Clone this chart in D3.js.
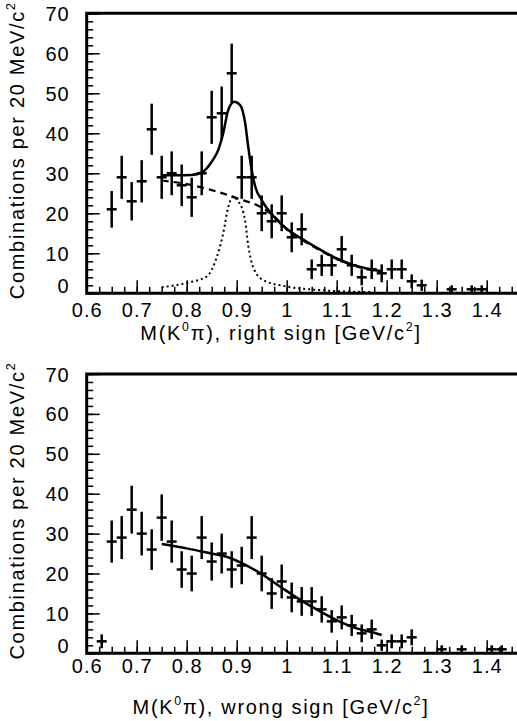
<!DOCTYPE html>
<html>
<head>
<meta charset="utf-8">
<script src="https://cdn.jsdelivr.net/npm/d3@7"></script>
<style>
  body { margin: 0; background: #fff; }
  svg { display: block; }
  text { font-family: "Liberation Sans", Arial, sans-serif; fill: #000; }
</style>
</head>
<body>
<script>
// bin centres (GeV/c^2) and counts per 20 MeV, right sign
const massRS = [0.65, 0.67, 0.69, 0.71, 0.73, 0.75, 0.77, 0.79, 0.81, 0.83, 0.85, 0.87, 0.89, 0.91, 0.93,
  0.95, 0.97, 0.99, 1.01, 1.03, 1.05, 1.07, 1.09, 1.11, 1.13, 1.15, 1.17, 1.19, 1.21, 1.23, 1.25, 1.27,
  1.33, 1.37, 1.39]
const countsRS = [21, 29, 23, 28, 41, 29, 30, 27, 24, 30, 44, 45, 55, 29, 29,
  20, 18, 20, 14, 16, 6, 7, 7, 11, 7, 4, 6, 5, 6, 6, 3, 2,
  1, 1, 1]

// wrong sign
const massWS = [0.63, 0.65, 0.67, 0.69, 0.71, 0.73, 0.75, 0.77, 0.79, 0.81, 0.83, 0.85, 0.87, 0.89, 0.91,
  0.93, 0.95, 0.97, 0.99, 1.01, 1.03, 1.05, 1.07, 1.09, 1.11, 1.13, 1.15, 1.17, 1.19, 1.21, 1.23, 1.25,
  1.31, 1.35, 1.41, 1.43]
const countsWS = [3, 28, 29, 36, 30, 26, 34, 28, 21, 20, 29, 23, 25, 21, 22,
  29, 20, 15, 18, 14, 13, 13, 11, 8, 9, 7, 5, 6, 2, 3, 3, 4,
  1, 1, 1, 1]

// fit curves
const fitRSx = [0.75, 0.78, 0.81, 0.83, 0.85, 0.863, 0.873, 0.883, 0.895, 0.907, 0.917, 0.923, 0.93, 0.937,
  0.95, 0.977, 1.003, 1.037, 1.067, 1.1, 1.133, 1.16, 1.19]
const fitRSy = [29.5, 29.5, 29.6, 30.2, 32.9, 35.8, 40, 45.8, 47.9, 47, 42.5, 36.7, 30.8, 26.7,
  23.3, 18.8, 15.8, 13.1, 10.9, 8.7, 7.1, 6.2, 5.5]
const bgRSx = [0.75, 0.8, 0.85, 0.9, 0.95, 0.977, 1.003, 1.037, 1.067, 1.1, 1.133, 1.16, 1.19]
const bgRSy = [28.2, 27.3, 25.8, 23.8, 21.4, 19, 15.6, 12.9, 10.7, 8.6, 7.0, 6.1, 5.4]
const sigRSx = [0.75, 0.8, 0.84, 0.86, 0.873, 0.883, 0.893, 0.903, 0.91, 0.917, 0.923, 0.933, 0.953, 1.0,
  1.067, 1.17]
const sigRSy = [1.5, 2.6, 4.2, 9, 15, 21.5, 24.2, 23, 21.5, 18, 12, 6.5, 3.3, 1.7, 0.8, 0.3]
const fitWSx = [0.75, 0.8, 0.85, 0.88, 0.907, 0.947, 0.987, 1.027, 1.067, 1.107, 1.147, 1.167, 1.19]
const fitWSy = [27.4, 26.3, 25, 24.2, 22.8, 20.1, 16.7, 13.4, 10.5, 7.9, 6, 5.4, 4.6]

const xMajor = [0.6, 0.7, 0.8, 0.9, 1.0, 1.1, 1.2, 1.3, 1.4]
const xLabels = ["0.6", "0.7", "0.8", "0.9", "1", "1.1", "1.2", "1.3", "1.4"]
const yMajor = [0, 10, 20, 30, 40, 50, 60, 70]

const W = 517, H = 721
const BIN = 0.02

const svg = d3.select("body").append("svg")
  .attr("width", W)
  .attr("height", H)

const x = d3.scaleLinear().domain([0.6, 1.5]).range([86.7, 536.7])

function xMinor() {
  const t = []
  for (let i = 0; i <= 36; i++) t.push(0.6 + i * 0.025)
  return t
}
function yMinor() {
  const t = []
  for (let i = 0; i <= 35; i++) t.push(i * 2)
  return t
}

// parts: [text, isSuperscript]; the tspan after a superscript drops back to the baseline
function supText(sel, parts, size) {
  const up = size * 0.45
  let shift = 0
  parts.forEach(p => {
    const ts = sel.append("tspan").text(p[0])
    if (p[1]) {
      ts.attr("dy", -up).attr("font-size", size * 0.62)
      shift = up
    } else if (shift) {
      ts.attr("dy", shift)
      shift = 0
    }
  })
}

function panel(top, bottom, mass, counts, title, curves, tickY, titleY) {
  const y = d3.scaleLinear().domain([0, 70]).range([bottom, top])
  const g = svg.append("g")

  // minor ticks
  g.append("g")
    .attr("transform", `translate(0,${bottom})`)
    .call(d3.axisBottom(x).tickValues(xMinor()).tickSize(-6.5).tickSizeOuter(0).tickFormat(""))
  g.append("g")
    .attr("transform", `translate(${x(0.6)},0)`)
    .call(d3.axisLeft(y).tickValues(yMinor()).tickSize(-6.5).tickSizeOuter(0).tickFormat(""))
  g.selectAll("text").remove()

  // major ticks
  g.append("g")
    .attr("transform", `translate(0,${bottom})`)
    .call(d3.axisBottom(x).tickValues(xMajor).tickSize(-13).tickSizeOuter(0)
      .tickFormat((d, i) => xLabels[i]))
    .call(a => a.selectAll("text").attr("y", tickY).attr("dy", 0)
      .attr("font-size", 20).attr("letter-spacing", 1))
  g.append("g")
    .attr("transform", `translate(${x(0.6)},0)`)
    .call(d3.axisLeft(y).tickValues(yMajor).tickSize(-13).tickSizeOuter(0).tickPadding(17))
    .call(a => a.selectAll("text").attr("font-size", 20).attr("letter-spacing", 1)
      .attr("dy", d => d === 0 ? "-0.05em" : "0.35em"))

  g.selectAll(".domain").remove()
  g.selectAll(".tick line").attr("stroke", "#000").attr("stroke-width", 1.5)

  // frame
  g.append("path")
    .attr("d", `M${W + 5},${top}H${x(0.6)}V${bottom}H${W + 5}`)
    .attr("fill", "none")
    .attr("stroke", "#000")
    .attr("stroke-width", 3)

  // curves
  curves.forEach(c => {
    const pts = c.xs.map((v, i) => [v, c.ys[i]])
    g.append("path")
      .datum(pts)
      .attr("fill", "none")
      .attr("stroke", "#000")
      .attr("stroke-width", c.w)
      .attr("stroke-dasharray", c.dash)
      .attr("d", d3.line().x(d => x(d[0])).y(d => y(d[1])).curve(d3.curveMonotoneX))
  })

  // data points with sqrt(N) errors
  const pts = mass.map((m, i) => ({ m: m, n: counts[i] }))
  const pg = g.append("g").attr("stroke", "#000").attr("stroke-width", 2.5)
  pg.selectAll("line.v").data(pts).join("line")
    .attr("class", "v")
    .attr("x1", d => x(d.m)).attr("x2", d => x(d.m))
    .attr("y1", d => y(d.n + Math.sqrt(d.n)))
    .attr("y2", d => y(d.n - Math.sqrt(d.n)))
  pg.selectAll("line.h").data(pts).join("line")
    .attr("class", "h")
    .attr("x1", d => x(d.m - BIN / 2)).attr("x2", d => x(d.m + BIN / 2))
    .attr("y1", d => y(d.n)).attr("y2", d => y(d.n))

  // y title
  const yt = svg.append("text")
    .attr("transform", `translate(24,${(top + bottom) / 2 - 3}) rotate(-90)`)
    .attr("text-anchor", "middle")
    .attr("font-size", 20)
    .attr("letter-spacing", 1.7)
  supText(yt, [["Combinations per 20 MeV/c", false], ["2", true]], 20)

  // x title
  const xt = svg.append("text")
    .attr("x", 281)
    .attr("y", titleY)
    .attr("text-anchor", "middle")
    .attr("font-size", 20)
    .attr("letter-spacing", 1.7)
  supText(xt, [["M(K", false], ["0", true], ["\u03c0), " + title + " [GeV/c", false], ["2", true], ["]", false]], 20)
}

panel(13.3, 293.3, massRS, countsRS, "right sign", [
  { xs: sigRSx, ys: sigRSy, w: 2, dash: "2,3" },
  { xs: bgRSx, ys: bgRSy, w: 2.2, dash: "7,5" },
  { xs: fitRSx, ys: fitRSy, w: 2.5, dash: null }
], 24, 340)

panel(374, 653.3, massWS, countsWS, "wrong sign", [
  { xs: fitWSx, ys: fitWSy, w: 2.5, dash: null }
], 20, 714)
</script>
</body>
</html>
